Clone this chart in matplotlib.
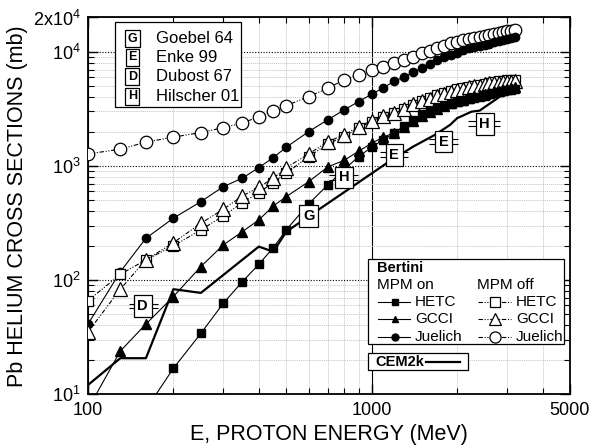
import numpy as np
import matplotlib
matplotlib.use("Agg")
import matplotlib.pyplot as plt
from matplotlib.patches import Rectangle
from matplotlib.lines import Line2D

plt.rcParams['font.family'] = ['Liberation Sans', 'DejaVu Sans']
plt.rcParams['mathtext.fontset'] = 'custom'
plt.rcParams['mathtext.rm'] = 'Liberation Sans'

nan = np.nan
# Proton energies (MeV) of the Bertini calculations
energy = [100, 130, 160, 200, 250, 300, 350, 400, 450, 500,
          600, 700, 800, 900, 1000, 1100, 1200, 1300, 1400, 1500,
          1600, 1700, 1800, 1900, 2000, 2100, 2200, 2300, 2400, 2500,
          2600, 2700, 2800, 2900, 3000, 3100, 3200]

# MPM on
hetc_on = [nan, nan, 7.3, 16.8, 34, 62.5, 96.6, 137, 192, 275,
           466, 681, 930, 1208, 1460, 1700, 1930, 2250, 2550, 2830,
           3050, 3205, 3350, 3480, 3600, 3720, 3830, 3930, 4030, 4130,
           4230, 4330, 4420, 4510, 4590, 4660, 4720]
gcci_on = [7.4, 23.8, 41, 71.5, 131, 203, 265, 336, 445, 538,
           728, 980, 1120, 1345, 1582, 1786, 1958, 2200, 2480, 2750,
           2980, 3180, 3360, 3530, 3680, 3820, 3950, 4070, 4180, 4290,
           4390, 4490, 4580, 4670, 4750, 4830, 4900]
juelich_on = [41, 118, 232, 348, 486, 658, 780, 966, 1183, 1459,
              2000, 2535, 3100, 3667, 4250, 4850, 5520, 6020, 6600, 7190,
              7890, 8410, 8920, 9380, 9860, 10380, 10710, 10990, 11250, 11540,
              11820, 12120, 12400, 12620, 12880, 13160, 13400]
# MPM off
hetc_off = [65.8, 112, 150, 199, 275, 364, 476, 583, 714, 863,
            1208, 1560, 1807, 2150, 2447, 2700, 2900, 3150, 3450, 3700,
            3900, 4150, 4350, 4520, 4680, 4800, 4950, 5060, 5150, 5270,
            5370, 5430, 5500, 5560, 5620, 5680, 5720]
gcci_off = [35, 83, 150, 212, 314, 417, 545, 650, 780, 966,
            1274, 1633, 1870, 2213, 2495, 2720, 2880, 3150, 3470, 3720,
            3880, 4130, 4300, 4470, 4630, 4740, 4890, 4990, 5060, 5180,
            5280, 5320, 5360, 5420, 5470, 5490, 5500]
juelich_off = [1274, 1400, 1615, 1788, 1960, 2168, 2368, 2706, 3054, 3381,
               4052, 4798, 5680, 6283, 6950, 7430, 7960, 8510, 9100, 9750,
               10260, 10760, 11350, 11900, 12300, 12600, 12900, 13200, 13500, 13800,
               14100, 14400, 14650, 14900, 15100, 15250, 15400]

# CEM2k
cem_energy = [100, 130, 160, 200, 250, 400, 450, 500, 1130, 1400,
              1670, 1890, 2000, 2250, 2400, 2600, 2830, 3060, 3200]
cem_sigma = [12, 20.6, 20.6, 83, 77, 196, 177, 265, 1057, 1476,
             1870, 2290, 2620, 2990, 3050, 3500, 4050, 4600, 4750]

# Experimental data
exp_letter = ['G', 'E', 'E', 'D', 'H', 'H']
exp_energy = [600, 1200, 1790, 156, 800, 2500]
exp_sigma = [364, 1248, 1633, 59, 796, 2335]
exp_elo = [600, 1068, 1595, 139, 708, 2187]
exp_ehi = [600, 1346, 2018, 177, 896, 2832]

legend_letters = ['G', 'E', 'D', 'H']
legend_names = ['Goebel 64', 'Enke 99', 'Dubost 67', 'Hilscher 01']

fig = plt.figure(figsize=(5.96, 4.48), dpi=100)
L, R, T, B = 88, 570, 17.5, 394
ax = fig.add_axes([L / 596, (448 - B) / 448, (R - L) / 596, (B - T) / 448])
ax.set_xscale('log')
ax.set_yscale('log')
ax.set_xlim(100, 5000)
ax.set_ylim(10, 20000)

# grids
ax.grid(which='minor', color='#c4c4c4', linestyle=(0, (1.5, 1)), linewidth=0.6, zorder=0)
ax.grid(which='major', axis='y', color='k', linestyle=(0, (1, 1.5)), linewidth=0.8, zorder=0)
ax.grid(which='major', axis='x', color='k', linestyle='-', linewidth=0.8, zorder=0)
ax.set_axisbelow(True)

dashdot2 = (0, (4, 1.5, 1, 1.5, 1, 1.5))
lw = 0.8
ax.plot(energy, juelich_off, color='k', lw=lw, ls=dashdot2, marker='o', ms=9,
        mfc='white', mec='k', mew=0.9, zorder=3)
ax.plot(energy, juelich_on, color='k', lw=lw, ls='-', marker='o', ms=6,
        mfc='k', mec='k', zorder=3)
ax.plot(energy, hetc_off, color='k', lw=lw, ls=dashdot2, marker='s', ms=7.5,
        mfc='white', mec='k', mew=0.9, zorder=3)
ax.plot(energy, gcci_off, color='k', lw=lw, ls=dashdot2, marker='^', ms=10,
        mfc='white', mec='k', mew=0.9, zorder=3)
ax.plot(energy, hetc_on, color='k', lw=lw, ls='-', marker='s', ms=5.2,
        mfc='k', mec='k', zorder=3)
ax.plot(energy, gcci_on, color='k', lw=lw, ls='-', marker='^', ms=6.5,
        mfc='k', mec='k', zorder=3)
ax.plot(cem_energy, cem_sigma, color='k', lw=1.6, ls='-', zorder=4)

# experimental points: lettered boxes with energy bars
for lab, e, s, lo, hi in zip(exp_letter, exp_energy, exp_sigma, exp_elo, exp_ehi):
    if hi > lo:
        ax.hlines([s * 1.05, s / 1.05], lo, hi, colors='k', lw=0.8, zorder=5)
    ax.text(e, s, lab, ha='center', va='center', fontsize=10.5, fontweight='bold',
            zorder=6, bbox=dict(boxstyle='square,pad=0.25', fc='white', ec='k', lw=0.9))

# ticks
ax.set_xticks([100, 1000, 5000])
ax.set_xticklabels(['100', '1000', '5000'])
ax.set_yticks([10, 100, 1000, 10000, 20000])
ax.set_yticklabels([r'$\mathregular{10^1}$', r'$\mathregular{10^2}$',
                    r'$\mathregular{10^3}$', r'$\mathregular{10^4}$',
                    r'2x$\mathregular{10^4}$'])
ax.tick_params(which='both', direction='in', top=True, right=True, labelsize=13)
ax.tick_params(which='major', length=7, width=1)
ax.tick_params(which='minor', length=4, width=0.8)
ax.tick_params(axis='x', which='major', pad=6)
ax.tick_params(axis='y', which='major', pad=5)
for sp in ax.spines.values():
    sp.set_linewidth(1.3)

ax.set_xlabel('E, PROTON ENERGY (MeV)', fontsize=15.5, labelpad=3)
ax.set_ylabel('Pb HELIUM CROSS SECTIONS (mb)', fontsize=15.5, labelpad=4)

# ---- legend 1 (experiments), drawn in axes fraction
tr = ax.transAxes
ax.add_patch(Rectangle((0.056, 0.763), 0.261, 0.226, transform=tr, fc='white',
                       ec='k', lw=0.9, zorder=7))
rows1 = [0.944, 0.894, 0.842, 0.791]
for y, lab, name in zip(rows1, legend_letters, legend_names):
    ax.text(0.092, y, lab, transform=tr, ha='center', va='center', fontsize=9,
            fontweight='bold', zorder=8,
            bbox=dict(boxstyle='square,pad=0.2', fc='white', ec='k', lw=0.9))
    ax.text(0.142, y, name, transform=tr, ha='left', va='center', fontsize=12, zorder=8)

# ---- legend 2 (Bertini)
ax.add_patch(Rectangle((0.580, 0.132), 0.408, 0.226, transform=tr, fc='white',
                       ec='k', lw=0.9, zorder=7))
ax.text(0.600, 0.334, 'Bertini', transform=tr, ha='left', va='center', fontsize=10.5,
        fontweight='bold', zorder=8)
ax.text(0.600, 0.289, 'MPM on', transform=tr, ha='left', va='center', fontsize=11, zorder=8)
ax.text(0.807, 0.289, 'MPM off', transform=tr, ha='left', va='center', fontsize=11, zorder=8)
names2 = ['HETC', 'GCCI', 'Juelich']
marks = ['s', '^', 'o']
rows2 = [0.244, 0.199, 0.152]
for y, nm, mk in zip(rows2, names2, marks):
    ax.add_line(Line2D([0.602, 0.669], [y, y], transform=tr, color='k', lw=0.8, zorder=8))
    ax.add_line(Line2D([0.636], [y], transform=tr, marker=mk, ms=5, mfc='k', mec='k',
                       ls='none', zorder=9))
    ax.text(0.678, y, nm, transform=tr, ha='left', va='center', fontsize=11, zorder=8)
    ax.add_line(Line2D([0.810, 0.878], [y, y], transform=tr, color='k', lw=0.8,
                       ls=dashdot2, zorder=8))
    ax.add_line(Line2D([0.844], [y], transform=tr, marker=mk, ms=8 if mk != 's' else 6.5,
                       mfc='white', mec='k', mew=0.9, ls='none', zorder=9))
    ax.text(0.888, y, nm, transform=tr, ha='left', va='center', fontsize=11, zorder=8)

# ---- CEM2k legend
ax.add_patch(Rectangle((0.580, 0.064), 0.208, 0.044, transform=tr, fc='white',
                       ec='k', lw=0.9, zorder=7))
ax.text(0.597, 0.086, 'CEM2k', transform=tr, ha='left', va='center', fontsize=10.5,
        fontweight='bold', zorder=8)
ax.add_line(Line2D([0.702, 0.772], [0.086, 0.086], transform=tr, color='k', lw=1.6, zorder=8))

fig.savefig('out.png', dpi=100)
